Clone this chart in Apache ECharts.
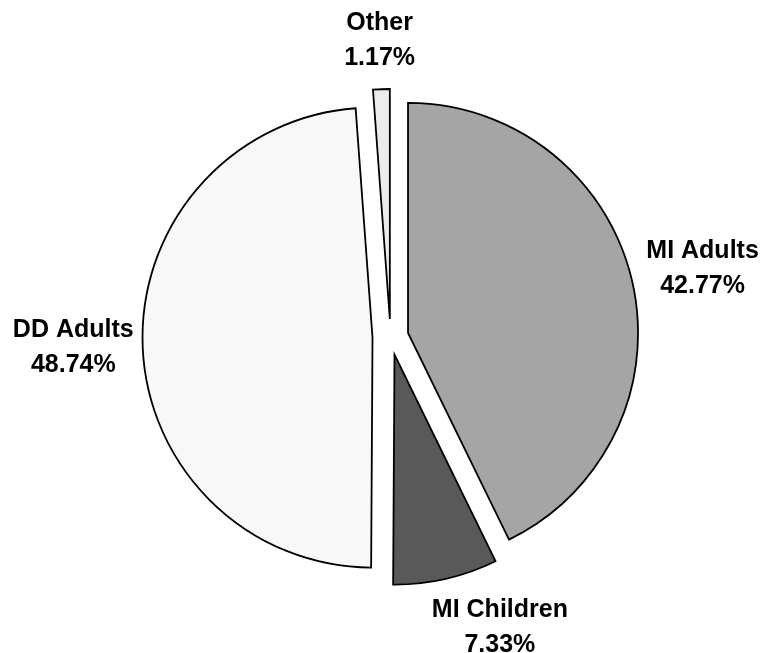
<!DOCTYPE html>
<html>
<head>
<meta charset="utf-8">
<script src="https://cdn.jsdelivr.net/npm/echarts@6/dist/echarts.min.js"></script>
<style>
  html, body { margin: 0; padding: 0; background: #ffffff; }
  #chart { width: 765px; height: 653px; }
</style>
</head>
<body>
<div id="chart"></div>
<script>
// Share of spending by population group (percent)
const categories = ['MI Adults', 'MI Children', 'DD Adults', 'Other'];
const shares = [42.77, 7.33, 48.74, 1.17];

const fills = ['#a5a5a5', '#595959', '#f8f8f8', '#ececec'];

const CENTER = [390.5, 337];
const RADIUS = 230;
const EXPLODE = 18;      // every slice is pulled out by this much
const LABEL_GAP = 14;    // space between the exploded arc and its label box
const LABEL_FONT = 'bold 25px "Liberation Sans", Arial, sans-serif';
const LINE_HEIGHT = 35;
const labelNudge = [[2, -1], [36, 1], [5, 1], [0, 0]];

const total = shares.reduce((a, b) => a + b, 0);
function midAngle(i) {
  let before = 0;
  for (let k = 0; k < i; k++) before += shares[k];
  return (before + shares[i] / 2) / total * 2 * Math.PI;
}

const measureCtx = document.createElement('canvas').getContext('2d');
measureCtx.font = LABEL_FONT;

function labelText(i) {
  return categories[i] + '\n' + shares[i].toFixed(2) + '%';
}

// Outside-end labels: the label box sits just beyond the exploded arc,
// pushed outward along the slice's middle direction.
function labelGraphic(i) {
  const a = midAngle(i);
  const dx = Math.sin(a), dy = -Math.cos(a);
  const text = labelText(i);
  const hw = Math.max.apply(null, text.split('\n').map(s => measureCtx.measureText(s).width)) / 2;
  const hh = LINE_HEIGHT;
  const rl = RADIUS + EXPLODE + LABEL_GAP;
  return {
    type: 'text',
    x: CENTER[0] + dx * rl + hw * dx + labelNudge[i][0],
    y: CENTER[1] + dy * rl + hh * dy + labelNudge[i][1],
    z: 10,
    style: {
      text: text,
      font: LABEL_FONT,
      lineHeight: LINE_HEIGHT,
      fill: '#000000',
      align: 'center',
      verticalAlign: 'middle'
    }
  };
}

const chart = echarts.init(document.getElementById('chart'), null, { renderer: 'canvas' });

chart.setOption({
  animation: false,
  backgroundColor: '#ffffff',
  graphic: categories.map((c, i) => labelGraphic(i)),
  series: [{
    type: 'pie',
    center: CENTER,
    radius: RADIUS,
    startAngle: 90,
    clockwise: true,
    selectedMode: 'multiple',
    selectedOffset: EXPLODE,
    avoidLabelOverlap: false,
    emphasis: { disabled: true },
    data: categories.map((name, i) => ({
      name: name,
      value: shares[i],
      selected: true,
      itemStyle: { color: fills[i] }
    })),
    itemStyle: { borderColor: '#000000', borderWidth: 1.8, borderJoin: 'miter' },
    label: { show: false },
    labelLine: { show: false }
  }]
});
</script>
</body>
</html>
